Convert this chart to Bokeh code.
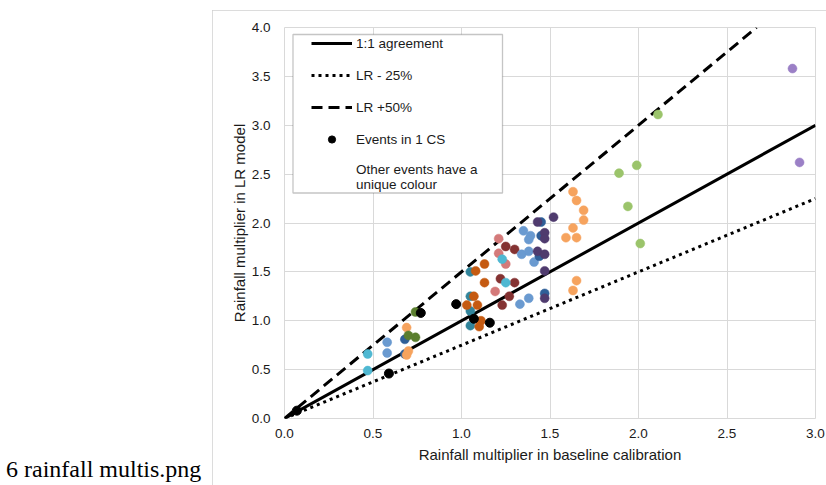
from bokeh.plotting import figure
from bokeh.models import (Range1d, FixedTicker, PrintfTickFormatter, Legend, LegendItem,
                          BoxAnnotation, Div, Spacer)
from bokeh.layouts import row, column
from bokeh.embed import file_html
from bokeh.resources import INLINE

# ---- data ----
agree_x = [0.0, 3.0]
agree_y = [0.0, 3.0]
lr25_x = [0.0, 3.0]
lr25_y = [0.0, 2.25]
lr50_x = [0.0, 2.667]
lr50_y = [0.0, 4.0]

cs1_x = [0.07, 0.59, 0.77, 0.97, 1.07, 1.16]
cs1_y = [0.08, 0.46, 1.08, 1.17, 1.02, 0.98]

teal_x = [1.05, 1.05, 1.05, 1.05]
teal_y = [1.50, 1.25, 1.10, 0.95]
dorange_x = [1.08, 1.13, 1.13, 1.07, 1.03, 1.09, 1.11, 1.10]
dorange_y = [1.51, 1.58, 1.39, 1.25, 1.16, 1.16, 1.00, 0.94]
maroon_x = [1.25, 1.30, 1.22, 1.30, 1.27, 1.23]
maroon_y = [1.76, 1.73, 1.43, 1.39, 1.25, 1.16]
pink_x = [1.21, 1.21, 1.25, 1.19]
pink_y = [1.84, 1.69, 1.58, 1.30]
cyan_x = [1.23, 1.25, 0.47, 0.47]
cyan_y = [1.63, 1.39, 0.66, 0.49]
mblue_x = [1.35, 1.39, 1.38, 1.34, 1.38, 1.41, 1.33, 1.38, 0.58, 0.58]
mblue_y = [1.92, 1.87, 1.83, 1.68, 1.71, 1.60, 1.17, 1.23, 0.78, 0.67]
dblue_x = [1.45, 1.45, 1.44, 1.47, 0.68, 0.68]
dblue_y = [2.01, 1.87, 1.66, 1.28, 0.81, 0.66]
dpurple_x = [1.43, 1.52, 1.47, 1.47, 1.43, 1.47, 1.47, 1.47]
dpurple_y = [2.01, 2.06, 1.90, 1.84, 1.71, 1.68, 1.51, 1.23]
lorange_x = [1.63, 1.65, 1.69, 1.69, 1.63, 1.59, 1.65, 1.65, 1.63, 0.69, 0.70, 0.69]
lorange_y = [2.32, 2.23, 2.13, 2.03, 1.95, 1.85, 1.85, 1.41, 1.31, 0.93, 0.69, 0.65]
olive_x = [0.74, 0.70, 0.74]
olive_y = [1.09, 0.85, 0.83]
lgreen_x = [2.11, 1.99, 1.89, 1.94, 2.01]
lgreen_y = [3.11, 2.59, 2.51, 2.17, 1.79]
lpurple_x = [2.87, 2.91]
lpurple_y = [3.58, 2.62]

x_ticks = [0.0, 0.5, 1.0, 1.5, 2.0, 2.5, 3.0]
y_ticks = [0.0, 0.5, 1.0, 1.5, 2.0, 2.5, 3.0, 3.5, 4.0]

caption_text = "6 rainfall multis.png"

FONT = "Liberation Sans"

p = figure(frame_width=531, frame_height=391,
           min_border_left=72, min_border_right=11, min_border_top=17, min_border_bottom=67,
           x_range=Range1d(0, 3), y_range=Range1d(0, 4),
           output_backend="svg", toolbar_location=None)
p.background_fill_color = "white"
p.border_fill_color = "white"
p.outline_line_color = "#D9D9D9"
p.styles = {"outline": "1px solid #D0D0D0", "outline-offset": "-1px"}

for ax, ticks in ((p.xaxis[0], x_ticks), (p.yaxis[0], y_ticks)):
    ax.ticker = FixedTicker(ticks=ticks)
    ax.formatter = PrintfTickFormatter(format="%.1f")
    ax.axis_line_color = None
    ax.major_tick_line_color = None
    ax.minor_tick_line_color = None
    ax.major_tick_out = 0
    ax.major_tick_in = 0
    ax.major_label_text_font = FONT
    ax.major_label_text_font_size = "13.5px"
    ax.major_label_text_color = "#1a1a1a"
    ax.axis_label_text_font = FONT
    ax.axis_label_text_font_size = "15px"
    ax.axis_label_text_font_style = "normal"
    ax.axis_label_text_color = "#1a1a1a"

p.xaxis.axis_label = "Rainfall multiplier in baseline calibration"
p.yaxis.axis_label = "Rainfall multiplier in LR model"
p.xaxis.major_label_standoff = 10
p.xaxis.axis_label_standoff = 5
p.yaxis.major_label_standoff = 14
p.yaxis.axis_label_standoff = 1

p.xgrid.ticker = FixedTicker(ticks=x_ticks)
p.ygrid.ticker = FixedTicker(ticks=y_ticks)
p.grid.grid_line_color = "#D9D9D9"
p.grid.grid_line_width = 1

# scatter groups
groups = [
    (teal_x, teal_y, "#31849B"),
    (dorange_x, dorange_y, "#C55A11"),
    (maroon_x, maroon_y, "#843232"),
    (pink_x, pink_y, "#D47A7A"),
    (cyan_x, cyan_y, "#4FB8D2"),
    (mblue_x, mblue_y, "#6A9AD0"),
    (dblue_x, dblue_y, "#2F5F98"),
    (dpurple_x, dpurple_y, "#4F3B6E"),
    (lorange_x, lorange_y, "#F6A35E"),
    (olive_x, olive_y, "#5A7E2E"),
    (lgreen_x, lgreen_y, "#9BC46B"),
    (lpurple_x, lpurple_y, "#9B80C6"),
]

r_agree = p.line(agree_x, agree_y, line_color="black", line_width=3)
r_lr25 = p.line(lr25_x, lr25_y, line_color="black", line_width=3, line_dash="3 4")
r_lr50 = p.line(lr50_x, lr50_y, line_color="black", line_width=3, line_dash="11 6")

for gx, gy, col in groups:
    p.scatter(gx, gy, size=9, fill_color=col, line_color=col, line_width=0.5)

r_cs1 = p.scatter(cs1_x, cs1_y, size=9, fill_color="black", line_color="black")
r_other = p.scatter([], [], size=9, fill_alpha=0, line_alpha=0)

# legend box (in canvas pixels of the figure)
p.add_layout(BoxAnnotation(left=80.5, right=290, top=24, bottom=182.5,
                           left_units="canvas", right_units="canvas",
                           top_units="canvas", bottom_units="canvas",
                           fill_color="white", fill_alpha=1,
                           line_color="#404040", line_width=1.3))

legend = Legend(items=[
    LegendItem(label="1:1 agreement", renderers=[r_agree]),
    LegendItem(label="LR - 25%", renderers=[r_lr25]),
    LegendItem(label="LR +50%", renderers=[r_lr50]),
    LegendItem(label="Events in 1 CS", renderers=[r_cs1]),
    LegendItem(label="Other events have a\nunique colour", renderers=[r_other]),
], location=(27, 226))
legend.padding = 0
legend.margin = 0
legend.spacing = 14
legend.label_height = 18
legend.glyph_height = 18
legend.glyph_width = 41
legend.label_standoff = 4
legend.border_line_alpha = 0
legend.background_fill_alpha = 0
legend.label_text_font = FONT
legend.label_text_font_size = "13.5px"
legend.label_text_color = "#1a1a1a"
legend.label_text_line_height = 1.05
p.add_layout(legend)

caption = Div(
    text=('<div style="padding-top:457px;padding-left:6px;font-family:\'Liberation Serif\',serif;'
          'font-size:24px;line-height:1;white-space:nowrap;color:#000">' + caption_text + '</div>'),
    width=212, height=485, margin=0)

root = row(caption, column(Spacer(width=614, height=10, margin=0), p, spacing=0, margin=0),
           spacing=0, margin=0)

open("out.html", "w").write(file_html(root, INLINE))
